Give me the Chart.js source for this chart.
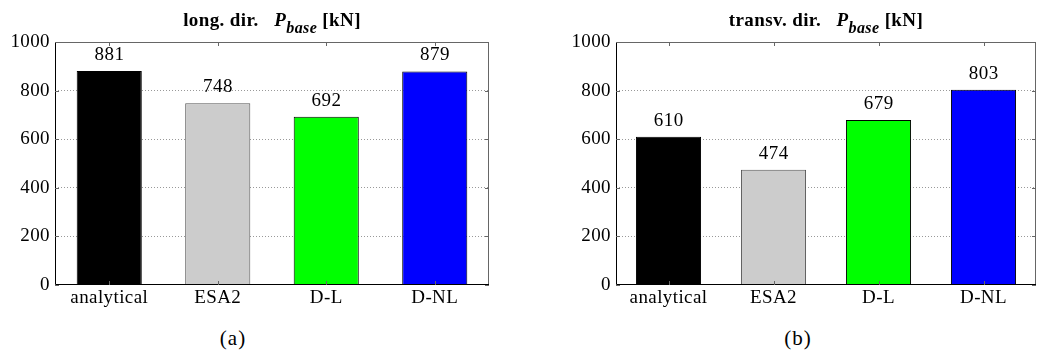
<!DOCTYPE html>
<html>
<head>
<meta charset="utf-8">
<script src="https://cdn.jsdelivr.net/npm/chart.js@4"></script>
<style>
	body { margin: 0; background: #fff; width: 1037px; height: 353px; position: relative; overflow: hidden; }
	.box { position: absolute; top: 0; height: 320px; }
	.title, .cap { position: absolute; font-family: 'Liberation Serif', serif; color: #000; white-space: nowrap; transform: translateX(-50%); }
	.title { top: 9px; font-size: 19px; font-weight: bold; letter-spacing: 0.4px; }
	.title sub { font-size: 16px; vertical-align: -7px; }
	.cap { top: 326px; font-size: 21px; letter-spacing: 1px; }
</style>
</head>
<body>
<div class="box" style="left:0;width:500px"><canvas id="chartA"></canvas></div>
<div class="box" style="left:560px;width:477px"><canvas id="chartB"></canvas></div>
<div class="title" style="left:272px">long. dir.&nbsp;&nbsp;&nbsp;<i>P</i><sub><i>base</i></sub> [kN]</div>
<div class="title" style="left:826px">transv. dir.&nbsp;&nbsp;&nbsp;<i>P</i><sub><i>base</i></sub> [kN]</div>
<div class="cap" style="left:233px">(a)</div>
<div class="cap" style="left:798px">(b)</div>
<script>
const categories = ["analytical", "ESA2", "D-L", "D-NL"];
const longValues = [881, 748, 692, 879];
const transvValues = [610, 474, 679, 803];
const barColors = ["#000000", "#cccccc", "#00ff00", "#0000ff"];
const borderColors = ["#000000", "#555555", "#000000", "#000000"];
const yTicks = [0, 200, 400, 600, 800, 1000];

const serif = "'Liberation Serif', serif";

// value labels above the bars + frame around the plot
const decor = {
	id: "decor",
	beforeDraw(chart) {
		chart.ctx.letterSpacing = "0.4px";
	},
	afterDraw(chart) {
		const ctx = chart.ctx;
		const a = chart.chartArea;
		ctx.save();
		ctx.lineWidth = 1;
		// frame
		ctx.strokeStyle = "#666";
		ctx.beginPath();
		ctx.moveTo(a.left, a.top + 0.5);
		ctx.lineTo(a.right - 0.5, a.top + 0.5);
		ctx.lineTo(a.right - 0.5, a.bottom);
		ctx.stroke();
		ctx.strokeStyle = "#000";
		ctx.beginPath();
		ctx.moveTo(a.left + 0.5, a.top);
		ctx.lineTo(a.left + 0.5, a.bottom - 0.5);
		ctx.lineTo(a.right, a.bottom - 0.5);
		ctx.stroke();
		// small inner ticks
		const y = chart.scales.y;
		ctx.strokeStyle = "#666";
		yTicks.forEach((v) => {
			const py = Math.round(y.getPixelForValue(v)) + 0.5;
			ctx.beginPath();
			ctx.moveTo(a.left, py);
			ctx.lineTo(a.left + 4, py);
			ctx.moveTo(a.right, py);
			ctx.lineTo(a.right - 4, py);
			ctx.stroke();
		});
		const x = chart.scales.x;
		categories.forEach((c, i) => {
			const px = Math.round(x.getPixelForValue(i)) + 0.5;
			ctx.beginPath();
			ctx.moveTo(px, a.top);
			ctx.lineTo(px, a.top + 4);
			ctx.moveTo(px, a.bottom);
			ctx.lineTo(px, a.bottom - 4);
			ctx.stroke();
		});
		// value labels
		ctx.fillStyle = "#000";
		ctx.font = "19px " + serif;
		ctx.letterSpacing = "0.5px";
		ctx.textAlign = "center";
		ctx.textBaseline = "alphabetic";
		const meta = chart.getDatasetMeta(0);
		meta.data.forEach((bar, i) => {
			ctx.fillText(String(chart.data.datasets[0].data[i]), bar.x + 0.3, bar.y - 11);
		});
		ctx.restore();
	},
};

function makeChart(id, values, rightPad, yWidth, barPct) {
	return new Chart(document.getElementById(id), {
		type: "bar",
		data: {
			labels: categories,
			datasets: [
				{
					data: values,
					backgroundColor: barColors,
					borderColor: borderColors,
					borderWidth: 1,
					barPercentage: barPct,
					categoryPercentage: 1,
				},
			],
		},
		options: {
			responsive: true,
			maintainAspectRatio: false,
			animation: false,
			layout: { padding: { top: 42, right: rightPad, left: 0, bottom: 0 } },
			plugins: {
				legend: { display: false },
				tooltip: { enabled: false },
			},
			scales: {
				x: {
					grid: { display: false, drawTicks: false },
					border: { display: false },
					ticks: { color: "#000", font: { family: serif, size: 19 }, padding: 2, maxRotation: 0, autoSkip: false },
					afterFit(scale) { scale.height = 35; },
				},
				y: {
					min: 0,
					max: 1000,
					afterBuildTicks(scale) { scale.ticks = yTicks.map((v) => ({ value: v })); },
					grid: {
						drawTicks: false,
						color: (c) => (c.tick.value === 0 || c.tick.value === 1000 ? "rgba(0,0,0,0)" : "#999"),
					},
					border: { display: false, dash: [1, 2] },
					ticks: { color: "#000", font: { family: serif, size: 19 }, padding: 5, callback: (v) => String(v) },
					afterFit(scale) { scale.width = yWidth; },
				},
			},
		},
		plugins: [decor],
	});
}

makeChart("chartA", longValues, 11, 55, 0.6);
makeChart("chartB", transvValues, 1, 56, 0.62);
</script>
</body>
</html>
